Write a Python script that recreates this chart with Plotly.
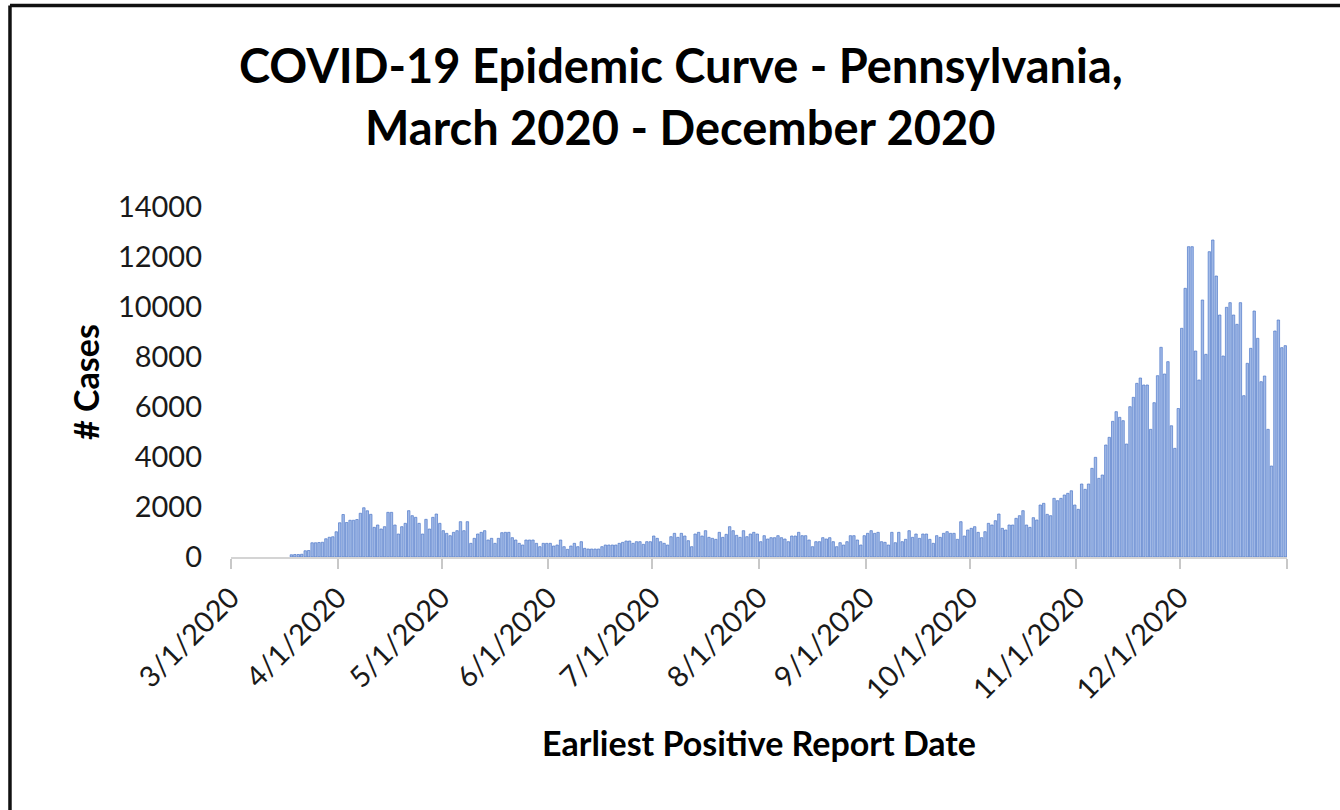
import pandas as pd
import plotly.graph_objects as go

# Daily new cases by earliest positive report date, Pennsylvania 2020
start_date = "2020-03-01"

cases_mar = [0, 0, 0, 0, 0, 0, 0, 0, 0, 0, 0, 0, 0, 0, 0, 0, 0, 90, 100, 100,
             110, 250, 260, 570, 570, 580, 590, 730, 790, 810, 1010]
cases_apr = [1370, 1700, 1380, 1470, 1470, 1500, 1750, 1970, 1850, 1707, 1187, 1280, 1120,
             1213, 1787, 1787, 1280, 920, 1213, 1347, 1853, 1653, 1587, 1347, 920, 1507,
             1120, 1587, 1720, 1347]
cases_may = [1053, 947, 853, 987, 1053, 1413, 1053, 1413, 547, 747, 920, 987, 1053, 680, 747,
             547, 747, 973, 987, 987, 773, 680, 547, 480, 680, 680, 680, 547, 413, 547, 547]
cases_jun = [547, 440, 480, 680, 413, 307, 440, 547, 413, 613, 347, 320, 320, 320, 320, 413,
             480, 480, 480, 480, 547, 587, 640, 640, 547, 613, 613, 507, 613, 613]
cases_jul = [840, 747, 613, 547, 480, 813, 947, 787, 947, 840, 653, 413, 920, 987, 840, 1053,
             787, 747, 707, 987, 787, 907, 1213, 1053, 867, 787, 1053, 813, 920, 987, 920]
cases_aug = [613, 853, 720, 773, 773, 853, 773, 720, 613, 840, 840, 987, 853, 853, 680, 413,
             613, 613, 773, 720, 773, 613, 413, 573, 480, 613, 853, 853, 680, 480, 853]
cases_sep = [947, 1053, 947, 987, 613, 587, 480, 987, 573, 987, 613, 707, 1053, 787, 920, 747,
             920, 920, 707, 547, 853, 787, 947, 1013, 947, 947, 707, 1413, 840, 1080]
cases_oct = [1147, 1213, 987, 773, 1013, 1347, 1280, 1453, 1720, 1147, 1080, 1280, 1280, 1547,
             1653, 1853, 1280, 1187, 1573, 1480, 2080, 2147, 1707, 1653, 2347, 2253, 2347,
             2480, 2547, 2650, 2080]
cases_nov = [1907, 2920, 2707, 2920, 3547, 3987, 3147, 3280, 4480, 4787, 5427, 5813, 5587,
             5453, 4520, 6013, 6387, 6947, 7160, 6880, 6880, 5107, 6173, 7253, 8387, 7320,
             7813, 5250, 4347, 5940]
cases_dec = [9147, 10747, 12413, 12413, 8240, 7080, 10280, 8107, 12213, 12680, 11240, 9680,
             8040, 9987, 10173, 9680, 9307, 10173, 6453, 7747, 8347, 9840, 8747, 7013, 7240,
             5107, 3640, 9040, 9480, 8373, 8453]

month_tick_dates = ["2020-03-01", "2020-04-01", "2020-05-01", "2020-06-01", "2020-07-01",
                    "2020-08-01", "2020-09-01", "2020-10-01", "2020-11-01", "2020-12-01",
                    "2021-01-01"]
month_tick_labels = ["3/1/2020", "4/1/2020", "5/1/2020", "6/1/2020", "7/1/2020",
                     "8/1/2020", "9/1/2020", "10/1/2020", "11/1/2020", "12/1/2020", ""]
y_tick_values = [0, 2000, 4000, 6000, 8000, 10000, 12000, 14000]
y_tick_labels = ["0", "2000", "4000", "6000", "8000", "10000", "12000", "14000"]

title_line1 = "COVID-19 Epidemic Curve - Pennsylvania,"
title_line2 = "March 2020 - December 2020"

cases = (cases_mar + cases_apr + cases_may + cases_jun + cases_jul + cases_aug
         + cases_sep + cases_oct + cases_nov + cases_dec)
dates = pd.date_range(start_date, periods=len(cases), freq="D")

# no outline on empty days so nothing is drawn along the baseline
outline_widths = [0.7 if v > 0 else 0 for v in cases]

FONT = "Lato"
TEXT = "#1a1a1a"

fig = go.Figure(
    go.Bar(
        x=dates,
        y=cases,
        xperiod=86400000,
        xperiodalignment="middle",
        marker=dict(color="#A3BBE8", line=dict(color="#4F78C8", width=outline_widths)),
        hovertemplate="%{x|%-m/%-d/%Y}: %{y}<extra></extra>",
    )
)

title_font = dict(family=FONT, size=47, color="#000000", weight="bold")

fig.update_layout(
    width=1340,
    height=810,
    margin=dict(l=231, r=53, t=207, b=253),
    paper_bgcolor="white",
    plot_bgcolor="white",
    bargap=0.3,
    showlegend=False,
    font=dict(family=FONT, color=TEXT),
    annotations=[
        dict(text="<b>" + title_line1 + "</b>", xref="paper", yref="paper",
             x=0.426, y=1.405, xanchor="center", yanchor="middle",
             showarrow=False, font=title_font),
        dict(text="<b>" + title_line2 + "</b>", xref="paper", yref="paper",
             x=0.426, y=1.228, xanchor="center", yanchor="middle",
             showarrow=False, font=title_font),
    ],
    xaxis=dict(
        type="date",
        range=["2020-03-01", "2021-01-01"],
        tickvals=month_tick_dates,
        ticktext=month_tick_labels,
        tickangle=-45,
        tickfont=dict(family=FONT, size=29, color=TEXT),
        ticks="outside",
        ticklen=10,
        tickwidth=2,
        tickcolor="#C8C8C8",
        showline=True,
        linecolor="#D4D4D4",
        linewidth=2,
        showgrid=False,
        zeroline=False,
        title=dict(
            text="Earliest Positive Report Date",
            font=dict(family=FONT, size=34, color="#000000", weight="bold"),
            standoff=28,
        ),
    ),
    yaxis=dict(
        range=[0, 14000],
        tickvals=y_tick_values,
        ticktext=y_tick_labels,
        tickfont=dict(family=FONT, size=29, color=TEXT),
        ticks="",
        ticklabelstandoff=28,
        showline=False,
        showgrid=False,
        zeroline=False,
        title=dict(
            text="# Cases",
            font=dict(family=FONT, size=34, color="#000000", weight="bold"),
            standoff=7,
        ),
    ),
    shapes=[
        # frame around the chart area (left and top edges)
        dict(type="line", xref="paper", yref="paper",
             x0=-0.2093, x1=-0.2093, y0=-0.75, y1=1.5757,
             line=dict(color="#111111", width=3.5)),
        dict(type="line", xref="paper", yref="paper",
             x0=-0.2093, x1=1.06, y0=1.5757, y1=1.5757,
             line=dict(color="#111111", width=3.5)),
    ],
)

fig.write_html("out.html")
